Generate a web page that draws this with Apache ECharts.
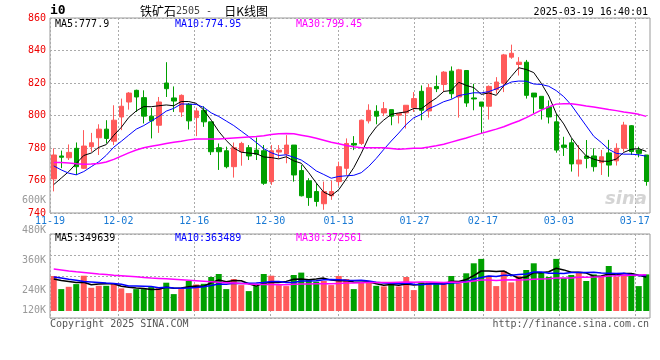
<!DOCTYPE html>
<html><head><meta charset="utf-8">
<script src="https://cdn.jsdelivr.net/npm/echarts@6/dist/echarts.min.js"></script>
<style>html,body{margin:0;padding:0;background:#fff}#c{width:660px;height:360px}</style>
</head><body><div id="c"></div><script>
const dates = ['11-19','11-20','11-21','11-22','11-25','11-26','11-27','11-28','11-29',
'12-02','12-03','12-04','12-05','12-06','12-09','12-10','12-11','12-12','12-13','12-16','12-17','12-18','12-19','12-20','12-23','12-24','12-25','12-26','12-27','12-30','12-31',
'01-02','01-03','01-06','01-07','01-08','01-09','01-10','01-13','01-14','01-15','01-16','01-17','01-20','01-21','01-22','01-23','01-24','01-27',
'02-05','02-06','02-07','02-10','02-11','02-12','02-13','02-14','02-17','02-18','02-19','02-20','02-21','02-24','02-25','02-26','02-27','02-28',
'03-03','03-04','03-05','03-06','03-07','03-10','03-11','03-12','03-13','03-14','03-17','03-18','03-19'];

const opens = [761.0,775.1,774.0,779.8,767.5,780.8,786.3,791.6,784.2,799.1,
808.3,815.5,811.0,799.6,794.0,820.0,810.8,802.2,806.9,798.7,
803.2,796.1,780.2,778.3,768.5,777.7,780.2,778.7,778.3,759.3,
777.5,776.3,781.8,766.1,759.8,753.2,745.7,750.6,759.3,767.5,
782.8,782.8,796.7,802.6,801.6,803.6,800.2,801.6,804.8,814.9,
802.8,817.9,819.1,827.3,811.4,827.7,810.8,808.3,805.7,815.9,
819.9,835.9,831.4,832.8,813.8,811.8,805.3,796.1,781.8,783.2,
770.2,775.1,775.1,771.0,777.0,772.1,779.8,793.7,778.8,775.7];
const closes = [775.7,774.3,777.3,768.5,781.2,783.2,791.6,785.9,797.1,805.7,
813.8,811.4,799.6,796.7,808.3,816.5,808.9,812.4,796.7,802.8,
796.1,777.7,777.7,768.5,780.2,782.8,775.1,776.1,758.3,778.3,
778.7,781.8,763.4,750.6,749.5,747.1,753.2,753.2,768.5,782.8,
781.8,797.1,803.2,799.6,804.2,799.6,801.2,806.3,810.4,803.2,
817.1,816.5,826.7,813.4,828.1,807.7,810.2,805.7,817.9,820.6,
837.3,838.3,832.8,812.4,811.4,804.2,799.1,778.7,780.4,770.2,
772.6,773.6,768.5,774.6,769.5,779.8,794.1,777.8,776.7,759.4];
const lows = [753.3,767.6,772.6,763.4,767.1,777.7,775.7,782.8,781.8,791.0,
803.6,802.2,795.1,785.9,789.3,811.4,802.2,799.1,791.4,787.3,
793.0,775.7,766.5,767.5,761.8,769.1,772.6,772.6,757.3,757.3,
773.6,770.6,759.3,750.2,744.4,744.0,742.0,748.1,756.7,763.4,
778.7,781.8,795.1,794.6,799.6,794.0,795.1,792.0,802.2,797.1,
798.7,814.4,814.4,810.4,798.7,805.3,803.2,789.0,797.5,813.4,
814.4,834.9,824.6,810.4,801.2,797.5,795.1,777.1,775.1,765.5,
762.4,767.5,765.5,763.4,762.3,769.2,777.8,775.7,774.3,756.8];
const highs = [779.8,778.4,782.2,783.4,791.0,789.3,794.6,797.1,806.3,810.4,
814.4,815.9,815.5,804.6,811.4,832.8,817.9,813.0,807.7,804.8,
805.7,796.1,782.8,780.8,783.4,783.8,781.8,786.5,781.8,781.8,
781.8,787.9,781.8,769.5,761.4,758.3,759.3,760.0,771.6,785.9,
787.3,797.5,806.9,806.3,808.3,803.6,801.2,806.3,814.4,818.5,
819.5,824.6,827.3,830.2,828.7,827.7,819.5,808.3,818.5,823.6,
837.9,843.6,835.9,834.2,813.8,811.8,809.3,801.2,786.9,785.9,
781.8,784.9,779.8,778.8,785.0,782.9,796.1,794.1,780.8,775.7];

const ma5 = [757.5,761.5,765.5,770.5,775.4,776.9,780.4,782.1,787.8,792.7,
798.8,802.8,805.5,805.4,806.0,806.5,806.0,808.6,808.6,807.5,
803.4,797.1,790.2,784.6,780.0,777.4,776.9,776.5,774.5,774.1,
773.3,774.6,772.1,770.6,764.8,758.5,752.8,750.7,754.3,761.0,
767.9,776.7,786.7,792.9,797.2,800.7,801.6,802.2,804.3,804.1,
807.6,810.7,814.8,815.4,820.4,818.5,817.2,813.0,813.9,812.4,
818.3,824.0,829.4,828.3,826.4,819.8,812.0,801.2,794.8,786.5,
780.2,775.1,773.1,771.9,771.8,773.2,777.3,779.2,779.6,777.9];
const ma10 = [769.0,766.5,764.5,763.5,765.5,768.5,771.5,775.5,780.5,784.1,
787.9,791.6,793.8,796.6,799.4,802.7,804.4,807.1,807.0,806.8,
805.0,801.6,799.4,796.6,793.8,790.4,787.0,783.4,779.6,777.1,
775.4,775.8,774.3,772.6,769.5,765.9,763.7,761.4,762.5,762.9,
763.2,764.8,768.7,773.6,779.1,784.3,789.2,794.5,798.6,800.7,
804.2,806.2,808.5,809.9,812.3,813.1,814.0,813.9,814.7,816.4,
818.4,820.6,821.2,821.1,819.4,819.1,818.0,815.3,811.6,806.5,
800.0,793.6,787.2,783.4,779.2,776.7,776.2,776.2,775.8,774.95];
const ma30 = [771.1,771.1,770.8,770.3,770.0,770.1,770.5,771.4,773.0,775.0,
777.0,778.8,780.2,781.1,781.9,782.7,783.5,784.2,785.0,785.5,
785.6,785.6,785.6,785.9,786.2,786.5,786.8,787.1,787.6,788.3,
788.8,788.9,788.7,787.9,787.1,786.0,784.8,783.6,782.6,781.5,
780.7,780.2,780.2,780.2,780.1,779.7,779.3,779.5,779.8,779.9,
780.6,781.4,782.3,783.6,784.9,786.2,787.6,789.0,790.3,791.6,
793.1,794.9,796.6,798.7,801.0,803.3,805.3,807.0,807.3,807.3,
806.6,805.9,805.3,804.5,803.7,803.0,802.2,801.5,800.7,799.45];

// volume, thousands of lots
const volumes = [350,219,242,269,353,232,252,252,276,226,
179,219,219,239,229,283,169,232,300,266,
272,340,370,219,320,259,199,249,370,353,
259,249,360,384,310,293,300,259,350,320,
219,286,286,252,246,259,246,340,209,286,
286,276,289,350,276,377,477,521,353,249,
400,286,350,410,477,386,340,521,330,360,
386,300,366,343,450,343,366,377,249,366];
const volMa5 = [320,305,295,285,287,263,270,272,273,248,
237,230,224,216,217,238,228,230,243,250,
248,282,310,293,304,302,273,249,279,286,
286,296,318,321,312,319,329,309,302,304,
290,287,292,273,258,266,258,269,260,268,
273,279,269,297,295,314,354,400,401,395,
400,362,328,339,385,382,393,427,411,387,
387,379,348,351,369,360,374,376,357,340];
const volMa10 = [340,330,318,308,295,290,285,280,276,268,
250,250,248,245,233,238,229,227,230,234,
243,255,270,268,277,275,278,280,286,295,
294,285,284,300,299,303,313,314,312,308,
305,308,301,288,281,278,273,281,267,263,
270,269,269,279,282,294,317,335,349,345,
357,358,364,370,390,391,378,378,375,386,
385,386,388,381,378,374,377,362,354,355];
const volMa30 = [420,410,400,392,385,378,370,364,358,353,
348,342,336,330,326,322,317,312,307,302,
297,292,287,283,279,275,271,268,266,265,
262,263,267,271,270,272,273,273,276,279,
280,283,285,285,286,285,288,291,288,289,
289,287,284,289,287,291,301,310,309,306,
310,312,311,312,318,321,322,331,330,331,
337,338,340,343,350,353,357,358,359,362];

const xLabelIdx = [0,9,19,29,38,48,57,67,77];
const priceMin = 740, priceMax = 860, priceStep = 20;
const volLabelMin = 120, volLabelMax = 600, volLabelStep = 120;

const codeText = 'i0';
const titleName = '铁矿石', titleCode = '2505', titleTail = '日K线图';
const timeText = '2025-03-19 16:40:01';
const priceLegend = ['MA5:777.9', 'MA10:774.95', 'MA30:799.45'];
const volLegend = ['MA5:349639', 'MA10:363489', 'MA30:372561'];
const footLeft = 'Copyright 2025 SINA.COM';
const footRight = 'http://finance.sina.com.cn';

const UP = '#ff5a5a', DOWN = '#00a000';
const MONO = '"DejaVu Sans Mono","Liberation Mono",monospace';
const CJK = '"Noto Sans CJK SC",sans-serif';
const GRIDC = '#aaaaaa';
const lineCols = ['#000000', '#0000ff', '#ff00ff'];

const isLab = (i) => xLabelIdx.indexOf(i) >= 0;

function txt(x, y, text, fill, font, align) {
  return { type: 'text', x: x, y: y, z: 100, silent: true,
    style: { text: text, fill: fill, font: font, align: align || 'left', textAlign: align || 'left',
      verticalAlign: 'middle', textVerticalAlign: 'middle' } };
}

const chart = echarts.init(document.getElementById('c'), null, { renderer: 'canvas' });

const option = {
  animation: false,
  backgroundColor: '#ffffff',
  grid: [
    { left: 50, top: 18, width: 600, height: 195, show: true, borderColor: '#999', borderWidth: 1, backgroundColor: 'transparent' },
    { left: 50, top: 234, width: 600, height: 84, show: true, borderColor: '#999', borderWidth: 1, backgroundColor: 'transparent' },
    { left: 50, top: 200.7, width: 600, height: 120, show: false }
  ],
  xAxis: [
    { gridIndex: 0, type: 'category', position: 'bottom', data: dates, boundaryGap: true, show: false },
    { gridIndex: 0, type: 'category', position: 'bottom', data: dates, boundaryGap: false,
      axisLine: { show: false }, axisTick: { show: false },
      axisLabel: { show: true, interval: isLab, color: '#1a7ad4', fontFamily: MONO, fontSize: 10, margin: 3 },
      splitLine: { show: true, interval: isLab, lineStyle: { color: GRIDC, type: [2, 2], width: 1 } } },
    { gridIndex: 1, type: 'category', position: 'bottom', data: dates, boundaryGap: true, show: false },
    { gridIndex: 1, type: 'category', position: 'bottom', data: dates, boundaryGap: false,
      axisLine: { show: false }, axisTick: { show: false }, axisLabel: { show: false },
      splitLine: { show: true, interval: isLab, lineStyle: { color: GRIDC, type: [2, 2], width: 1 } } },
    { gridIndex: 2, type: 'value', position: 'bottom', show: false, min: 0, max: 1 }
  ],
  yAxis: [
    { gridIndex: 0, type: 'value', position: 'left', min: priceMin, max: priceMax, interval: priceStep,
      axisLine: { show: false }, axisTick: { show: false },
      axisLabel: { color: '#ee0000', fontFamily: MONO, fontSize: 10, margin: 4 },
      splitLine: { show: true, lineStyle: { color: GRIDC, type: [2, 2], width: 1 } } },
    { gridIndex: 1, type: 'value', position: 'left', min: -70, max: 770, interval: 210,
      axisLine: { show: false }, axisTick: { show: false }, axisLabel: { show: false },
      splitLine: { show: true, lineStyle: { color: GRIDC, type: [2, 2], width: 1 } } },
    { gridIndex: 2, type: 'value', position: 'left', min: volLabelMin, max: volLabelMax, interval: volLabelStep,
      axisLine: { show: false }, axisTick: { show: false }, splitLine: { show: false },
      axisLabel: { color: '#999', fontFamily: MONO, fontSize: 10, margin: 4,
        formatter: (v) => v === volLabelMin ? '{low|' + v + 'K}' : v + 'K',
        rich: { low: { color: '#999', fontFamily: MONO, fontSize: 10, padding: [0, 0, 20, 0] } } } }
  ],
  series: [
    { type: 'candlestick', xAxisIndex: 0, yAxisIndex: 0, barWidth: 5,
      data: dates.map((d, i) => [opens[i], closes[i], lows[i], highs[i]]),
      itemStyle: { color: UP, color0: DOWN, borderColor: UP, borderColor0: DOWN, borderWidth: 1 } },
    { type: 'line', xAxisIndex: 0, yAxisIndex: 0, data: ma5, symbol: 'none', lineStyle: { color: lineCols[0], width: 1 }, z: 5 },
    { type: 'line', xAxisIndex: 0, yAxisIndex: 0, data: ma10, symbol: 'none', lineStyle: { color: lineCols[1], width: 1 }, z: 5 },
    { type: 'line', xAxisIndex: 0, yAxisIndex: 0, data: ma30, symbol: 'none', lineStyle: { color: lineCols[2], width: 1.5 }, z: 5 },
    { type: 'bar', xAxisIndex: 2, yAxisIndex: 1, barWidth: 6,
      data: volumes.map((v, i) => ({ value: v, itemStyle: { color: closes[i] >= opens[i] ? UP : DOWN } })) },
    { type: 'line', xAxisIndex: 2, yAxisIndex: 1, data: volMa5, symbol: 'none', lineStyle: { color: lineCols[0], width: 1.5 }, z: 5 },
    { type: 'line', xAxisIndex: 2, yAxisIndex: 1, data: volMa10, symbol: 'none', lineStyle: { color: lineCols[1], width: 1.5 }, z: 5 },
    { type: 'line', xAxisIndex: 2, yAxisIndex: 1, data: volMa30, symbol: 'none', lineStyle: { color: lineCols[2], width: 1.5 }, z: 5 }
  ],
  graphic: [
    txt(50, 11, codeText, '#000', 'bold 13px ' + MONO),
    { type: 'text', x: 140, y: 11, z: 100, silent: true,
      style: { text: '{cn|' + titleName + '}{num|' + titleCode + ' -  }{cn|' + titleTail + '}',
        align: 'left', textAlign: 'left', verticalAlign: 'middle', textVerticalAlign: 'middle',
        rich: { cn: { fontFamily: CJK, fontSize: 12, fill: '#000', color: '#000' },
                num: { fontFamily: MONO, fontSize: 10, fill: '#444', color: '#444' } } } },
    txt(648, 12.5, timeText, '#000', '10px ' + MONO, 'right'),
    txt(55, 24, priceLegend[0], lineCols[0], '10px ' + MONO),
    txt(175, 24, priceLegend[1], lineCols[1], '10px ' + MONO),
    txt(296, 24, priceLegend[2], lineCols[2], '10px ' + MONO),
    txt(55, 238.5, volLegend[0], lineCols[0], '10px ' + MONO),
    txt(175, 238.5, volLegend[1], lineCols[1], '10px ' + MONO),
    txt(296, 238.5, volLegend[2], lineCols[2], '10px ' + MONO),
    txt(50, 324, footLeft, '#555', '10px ' + MONO),
    txt(649, 324, footRight, '#555', '10px ' + MONO, 'right'),
    txt(626, 199, 'sina', '#d4d4d4', 'italic bold 18px "DejaVu Sans",sans-serif', 'center')
  ]
};
chart.setOption(option);
</script></body></html>
